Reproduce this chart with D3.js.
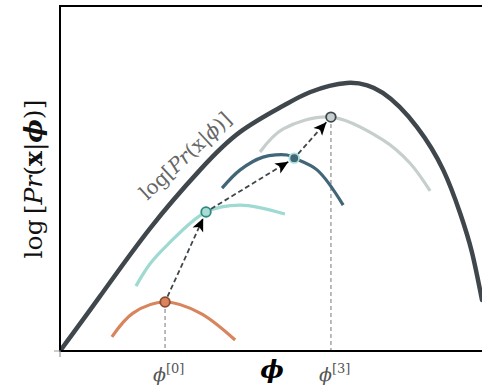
<!DOCTYPE html>
<html>
<head>
<meta charset="utf-8">
<script src="https://cdn.jsdelivr.net/npm/d3@7"></script>
<style>
  body { margin: 0; background: #fff; }
  svg { display: block; }
</style>
</head>
<body>
<div id="chart"></div>
<script>
// data, in plot units (x 0..100, y 0..100)
let mainCurve = [[0,0],[9.5,15.9],[21.3,35.5],[33.2,52.5],[42.7,63.5],[52.8,71.0],[59.2,75.0],[68.0,77.7],[76.5,74.8],[84.6,64.9],[90.8,52.5],[94.8,40.0],[97.6,28.7],[100,14.8]];
let boundCurves = [
  {name: "b0", color: "#d8845c", pts: [[12.3,4.1],[17.3,11.0],[24.9,14.2],[33.2,11.0],[41.5,3.2]]},
  {name: "b1", color: "#9fdad2", pts: [[18.0,18.8],[21.3,25.2],[25.4,30.7],[34.6,40.3],[42.7,42.3],[53.3,39.7]]},
  {name: "b2", color: "#426677", pts: [[38.4,47.2],[42.7,52.5],[48.1,56.2],[53.8,56.8],[55.5,55.9],[60.9,52.5],[67.1,42.3]]},
  {name: "b3", color: "#c6cfce", pts: [[47.4,57.7],[52.8,64.3],[64.2,67.8],[76.5,61.2],[82.9,54.5],[87.7,46.4]]}
];
let stepPoints = [
  {x: 24.9, y: 14.2, fill: "#d8845c", stroke: "#8c4a2f"},
  {x: 34.6, y: 40.3, fill: "#a8ddd5", stroke: "#2e8a80"},
  {x: 55.5, y: 55.9, fill: "#426677", stroke: "#a6ded8"},
  {x: 64.2, y: 67.8, fill: "#c6cfce", stroke: "#3f474c"}
];
let tickLabels = [{x: 24.9, sup: "[0]"}, {x: 64.2, sup: "[3]"}];

let width = 482, height = 387;
let margin = {top: 6, right: 0, bottom: 36, left: 60};
let serif = "DejaVu Serif, Liberation Serif, serif";

let svg = d3.select("#chart").append("svg")
  .attr("width", width).attr("height", height);

let x = d3.scaleLinear().domain([0, 100]).range([margin.left, width - margin.right]);
let y = d3.scaleLinear().domain([0, 100]).range([height - margin.bottom, margin.top]);

let defs = svg.append("defs");
defs.append("marker")
  .attr("id", "arrow")
  .attr("viewBox", "0 0 10 10")
  .attr("refX", 10).attr("refY", 5)
  .attr("markerWidth", 13).attr("markerHeight", 13)
  .attr("markerUnits", "userSpaceOnUse")
  .attr("orient", "auto")
  .append("path").attr("d", "M0,0.5L10,5L0,9.5L2.5,5Z").attr("fill", "#000");
defs.append("clipPath").attr("id", "clip")
  .append("rect").attr("x", margin.left).attr("y", margin.top)
  .attr("width", width - margin.left - margin.right)
  .attr("height", height - margin.top - margin.bottom);

let line = d3.line().x(d => x(d[0])).y(d => y(d[1])).curve(d3.curveCatmullRom.alpha(0.5));

// dashed drop lines
svg.append("g")
  .selectAll("line")
  .data(tickLabels)
  .join("line")
  .attr("x1", d => x(d.x)).attr("x2", d => x(d.x))
  .attr("y1", d => y(stepPoints.find(p => p.x === d.x).y))
  .attr("y2", y(0))
  .attr("stroke", "#aaa").attr("stroke-width", 1.6)
  .attr("stroke-dasharray", "4,3");

// main curve
svg.append("path")
  .attr("clip-path", "url(#clip)")
  .attr("d", line.curve(d3.curveNatural)(mainCurve))
  .attr("fill", "none").attr("stroke", "#3f474c")
  .attr("stroke-width", 4.5).attr("stroke-linecap", "round");
line.curve(d3.curveCatmullRom.alpha(0.5));

// lower bounds
svg.append("g")
  .selectAll("path")
  .data(boundCurves)
  .join("path")
  .attr("d", d => line(d.pts))
  .attr("fill", "none")
  .attr("stroke", d => d.color)
  .attr("stroke-width", 3.2);

// arrows between steps
let r = 4.8;
let arrows = d3.pairs(stepPoints);
svg.append("g")
  .selectAll("line")
  .data(arrows)
  .join("line")
  .each(function([a, b]) {
    let x1 = x(a.x), y1 = y(a.y), x2 = x(b.x), y2 = y(b.y);
    let len = Math.hypot(x2 - x1, y2 - y1);
    let ux = (x2 - x1) / len, uy = (y2 - y1) / len;
    d3.select(this)
      .attr("x1", x1 + ux * (r + 1)).attr("y1", y1 + uy * (r + 1))
      .attr("x2", x2 - ux * (r + 2)).attr("y2", y2 - uy * (r + 2));
  })
  .attr("stroke", "#3f474c").attr("stroke-width", 1.8)
  .attr("stroke-dasharray", "5,3")
  .attr("marker-end", "url(#arrow)");

svg.append("g")
  .selectAll("circle")
  .data(stepPoints)
  .join("circle")
  .attr("cx", d => x(d.x)).attr("cy", d => y(d.y))
  .attr("r", r)
  .attr("fill", d => d.fill).attr("stroke", d => d.stroke)
  .attr("stroke-width", 1.8);

// spines
svg.append("path")
  .attr("d", `M${width},${margin.top}H${margin.left}V${y(0)}H${width}`)
  .attr("fill", "none").attr("stroke", "#000").attr("stroke-width", 2);
svg.append("path")
  .attr("d", `M${margin.left - 6},${y(0)}H${margin.left}V${y(0) + 6}`)
  .attr("fill", "none").attr("stroke", "#999").attr("stroke-width", 1.2);

// tick labels
let tl = svg.append("g")
  .selectAll("text")
  .data(tickLabels)
  .join("text")
  .attr("x", d => x(d.x) - 12).attr("y", 381)
  .attr("font-family", serif)
  .attr("fill", "#555")
  .attr("font-size", 19);
tl.append("tspan").attr("font-style", "italic").text("ϕ");
tl.append("tspan").attr("font-size", 13).attr("dy", -8).text(d => d.sup);

// axis labels
svg.append("text")
  .attr("x", 272).attr("y", 378)
  .attr("text-anchor", "middle")
  .attr("font-family", serif)
  .attr("font-size", 25).attr("font-style", "italic").attr("font-weight", "bold")
  .text("ϕ");

function mathLabel(g) {
  g.append("tspan").text("log");
  g.append("tspan").attr("dx", 5).text("[");
  g.append("tspan").attr("font-style", "italic").text("Pr");
  g.append("tspan").text("(");
  g.append("tspan").attr("font-weight", "bold").text("x");
  g.append("tspan").text("|");
  g.append("tspan").attr("font-style", "italic").attr("font-weight", "bold").text("ϕ");
  g.append("tspan").text(")]");
}

let yl = svg.append("text")
  .attr("transform", `translate(42,${179}) rotate(-90)`)
  .attr("text-anchor", "middle")
  .attr("font-family", serif)
  .attr("font-size", 25).attr("fill", "#111");
yl.call(mathLabel);

let cl = svg.append("text")
  .attr("transform", `translate(190,161) rotate(-43)`)
  .attr("text-anchor", "middle")
  .attr("font-family", serif)
  .attr("font-size", 20).attr("fill", "#666");
cl.call(mathLabel);
cl.selectAll("tspan").attr("font-weight", null).filter((d, i) => i === 1).attr("dx", 0);
</script>
</body>
</html>
